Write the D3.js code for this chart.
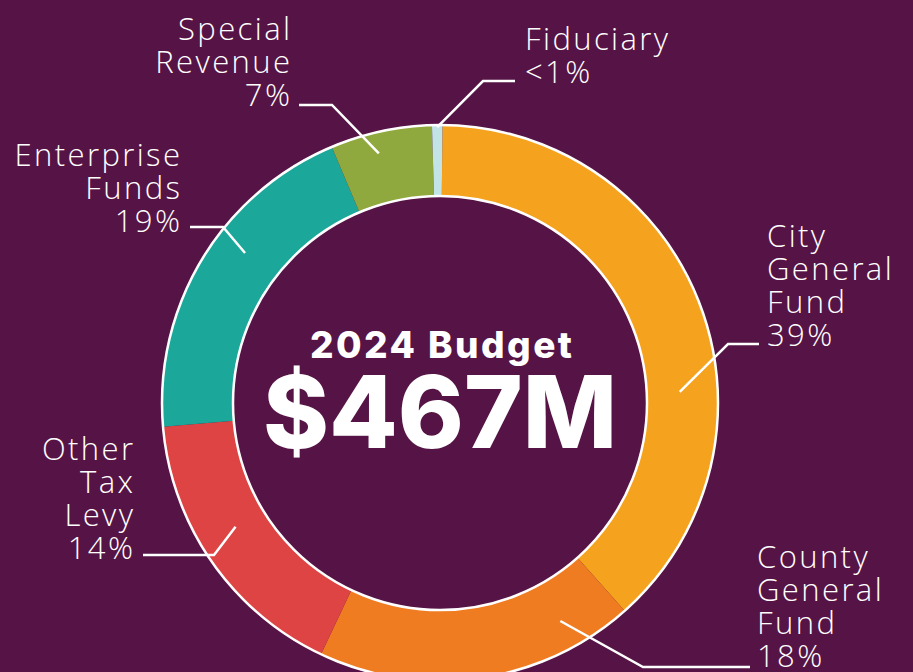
<!DOCTYPE html>
<html>
<head>
<meta charset="utf-8">
<script src="https://cdn.jsdelivr.net/npm/d3@7"></script>
<style>
  html, body { margin: 0; padding: 0; background: #561446; }
  svg { display: block; }
  .lbl { font-family: "Open Sans", sans-serif; font-weight: 300; fill: #fff; letter-spacing: 2.4px; }
  .center { font-family: "Inter", "Open Sans", sans-serif; font-weight: 800; fill: #fff; }
</style>
</head>
<body>
<svg id="chart" width="913" height="672"></svg>
<script>
const funds = ['City General Fund', 'County General Fund', 'Other Tax Levy', 'Enterprise Funds', 'Special Revenue', 'Fiduciary'];
const shares = [38.3, 18.6, 16.6, 20.0, 5.9, 0.6];
const pctLabels = ['39%', '18%', '14%', '19%', '7%', '<1%'];
const nameLines = [['City', 'General', 'Fund'], ['County', 'General', 'Fund'], ['Other', 'Tax', 'Levy'], ['Enterprise', 'Funds'], ['Special', 'Revenue'], ['Fiduciary']];
const colors = ['#F5A31F', '#F07C22', '#DE4443', '#1BA89A', '#90A93E', '#C2E4E7'];

const totalTitle = '2024 Budget';
const totalValue = '$467M';

const svg = d3.select('#chart');
const cx = 440, cy = 403;
const rOuter = 278, rInner = 207;
const ls = 2.4;

// label placement: text anchor, first baseline, leader start / elbow, where it touches the slice
const layout = [
  { x: 767, y: 247, anchor: 'start', lx: 759, ly: 344, ex: 728, t: 0.63, r: 240 },
  { x: 757, y: 568, anchor: 'start', lx: 750, ly: 667, ex: 643, t: 0.19, r: 249 },
  { x: 133, y: 460, anchor: 'end',   lx: 143, ly: 555, ex: 214, t: 0.56, r: 239 },
  { x: 180, y: 166, anchor: 'end',   lx: 190, ly: 227, ex: 223, t: 0.59, r: 246 },
  { x: 290, y: 40,  anchor: 'end',   lx: 299, ly: 105, ex: 332, t: 0.43, r: 257 },
  { x: 525, y: 50,  anchor: 'start', lx: 515, ly: 81,  ex: 483, t: 0.5,  r: 276 }
];
const lineH = 33;

const start = 0.5 * Math.PI / 180;
const pie = d3.pie().sort(null).value(d => d).startAngle(start).endAngle(start + 2 * Math.PI);
const arcs = pie(shares);

const arc = d3.arc().innerRadius(rInner).outerRadius(rOuter);

const g = svg.append('g').attr('transform', `translate(${cx},${cy})`);

g.selectAll('path.slice')
  .data(arcs)
  .enter()
  .append('path')
  .attr('class', 'slice')
  .attr('d', arc)
  .attr('fill', (d, i) => colors[i]);

// white rims
g.append('circle').attr('r', rOuter).attr('fill', 'none').attr('stroke', '#fff').attr('stroke-width', 2.5);
g.append('circle').attr('r', rInner).attr('fill', 'none').attr('stroke', '#fff').attr('stroke-width', 2.5);

// leader lines
arcs.forEach((d, i) => {
  const L = layout[i];
  const a = d.startAngle + (d.endAngle - d.startAngle) * L.t;
  const px = cx + L.r * Math.sin(a);
  const py = cy - L.r * Math.cos(a);
  svg.append('polyline')
    .attr('points', `${L.lx},${L.ly} ${L.ex},${L.ly} ${px},${py}`)
    .attr('fill', 'none')
    .attr('stroke', '#fff')
    .attr('stroke-width', 2.5);
});

// labels
arcs.forEach((d, i) => {
  const L = layout[i];
  const lines = nameLines[i].concat([pctLabels[i]]);
  const txt = svg.append('text')
    .attr('class', 'lbl')
    .attr('text-anchor', L.anchor)
    .attr('font-size', 31);
  // letter-spacing trails the last glyph, so push end-anchored text back
  const x = L.anchor === 'end' ? L.x + ls : L.x;
  lines.forEach((s, k) => {
    txt.append('tspan')
      .attr('x', x)
      .attr('y', L.y + k * lineH)
      .text(s);
  });
});

// centre
svg.append('text')
  .attr('class', 'center')
  .attr('x', cx + 1)
  .attr('y', 358)
  .attr('text-anchor', 'middle')
  .attr('font-size', 37)
  .attr('textLength', 262)
  .attr('lengthAdjust', 'spacing')
  .text(totalTitle);

svg.append('text')
  .attr('class', 'center')
  .attr('x', cx)
  .attr('y', 448)
  .attr('text-anchor', 'middle')
  .attr('font-size', 100)
  .attr('textLength', 354)
  .attr('lengthAdjust', 'spacing')
  .text(totalValue);
</script>
</body>
</html>
